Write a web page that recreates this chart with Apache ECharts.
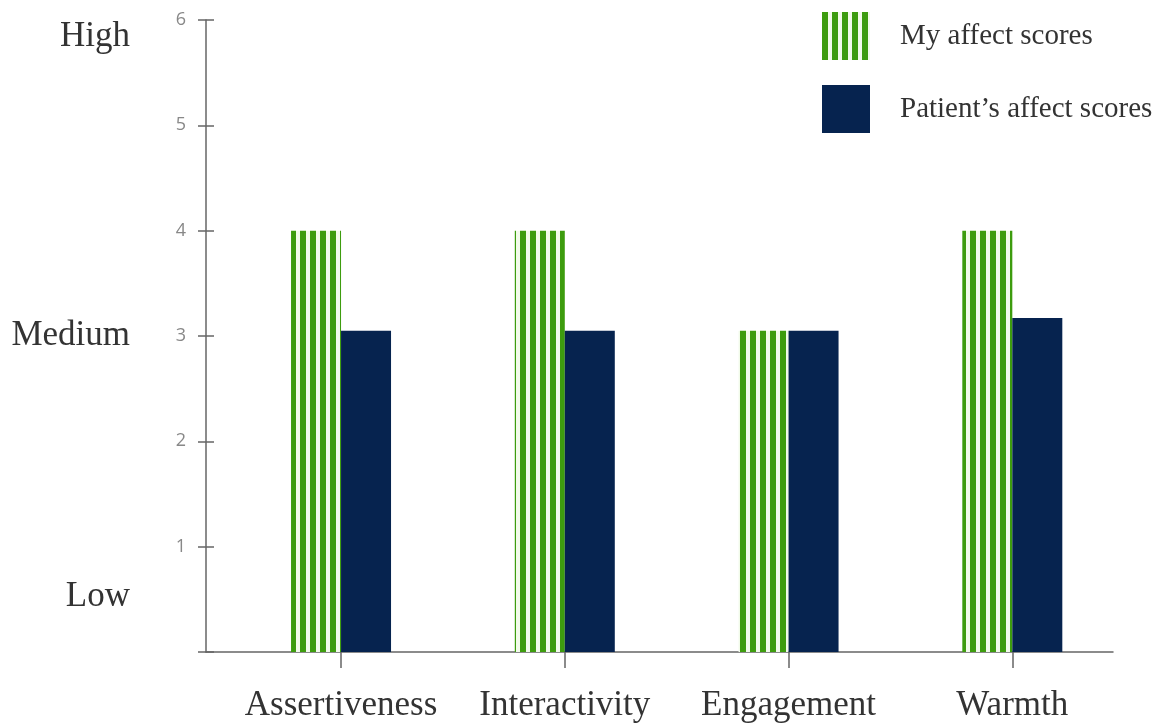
<!DOCTYPE html>
<html>
<head>
<meta charset="utf-8">
<script src="https://cdn.jsdelivr.net/npm/echarts@6/dist/echarts.min.js"></script>
<style>
  html, body { margin: 0; padding: 0; background: #fff; }
  #chart { width: 1173px; height: 728px; }
</style>
</head>
<body>
<div id="chart"></div>
<script>
// categories and values
var categories = ['Assertiveness', 'Interactivity', 'Engagement', 'Warmth'];
var myScores = [4, 4, 3.05, 4];
var patientScores = [3.05, 3.05, 3.05, 3.17];
var levelNames = ['Low', 'Medium', 'High'];
var levelValues = [0.52, 3, 5.84];

// vertical green / white stripes
function stripes() {
  var c = document.createElement('canvas');
  c.width = 10; c.height = 10;
  var ctx = c.getContext('2d');
  ctx.fillStyle = '#f2fbea';
  ctx.fillRect(0, 0, 10, 10);
  ctx.fillStyle = '#3d9c0e';
  ctx.fillRect(0, 0, 6, 10);
  return c;
}
var greenFill = { image: stripes(), repeat: 'repeat' };

var serif = 'Liberation Serif';
var axisColor = '#666';

var chartDom = document.getElementById('chart');
var myChart = echarts.init(chartDom);

var option = {
  animation: false,
  grid: { left: 206, right: 60, top: 20, bottom: 76 },
  legend: {
    orient: 'vertical',
    left: 822,
    top: 12,
    padding: 0,
    itemWidth: 48,
    itemHeight: 48,
    itemGap: 25,
    icon: 'rect',
    textStyle: { fontFamily: serif, fontSize: 29, color: '#333', padding: [0, 0, 0, 25] },
    data: ['My affect scores', 'Patient\u2019s affect scores']
  },
  xAxis: {
    type: 'value',
    min: 0.3965,
    max: 4.45,
    splitLine: { show: false },
    axisLine: { show: true, lineStyle: { color: axisColor, width: 1.5 } },
    axisTick: { show: true, customValues: [1, 2, 3, 4], length: 16, lineStyle: { color: axisColor, width: 1.5 } },
    axisLabel: {
      customValues: [1, 2, 3, 4],
      margin: 36,
      fontFamily: serif,
      fontSize: 35,
      color: '#333',
      formatter: function (v) { return categories[Math.round(v) - 1]; }
    }
  },
  yAxis: [
    {
      // axis line plus the High / Medium / Low labels
      type: 'value', min: 0, max: 6, position: 'left',
      splitLine: { show: false },
      axisLine: { show: true, lineStyle: { color: axisColor, width: 1.5 } },
      axisTick: { show: false },
      axisLabel: {
        customValues: levelValues,
        margin: 76,
        fontFamily: serif, fontSize: 35, color: '#333',
        formatter: function (v) { return levelNames[levelValues.indexOf(v)]; }
      }
    },
    {
      // numeric ticks, shifted so the ticks cross the axis line
      type: 'value', min: 0, max: 6, interval: 1, position: 'left', offset: -8,
      splitLine: { show: false },
      axisLine: { show: false },
      axisTick: { show: true, length: 16, lineStyle: { color: axisColor, width: 1.5 } },
      axisLabel: {
        margin: 28, fontFamily: 'Open Sans', fontSize: 18, color: '#888',
        formatter: function (v) { return v === 0 ? '' : String(v); }
      }
    }
  ],
  series: [
    {
      name: 'My affect scores',
      type: 'bar',
      barWidth: 50,
      barGap: '0%',
      itemStyle: { color: greenFill },
      data: myScores.map(function (v, i) { return [i + 1, v]; })
    },
    {
      name: 'Patient\u2019s affect scores',
      type: 'bar',
      barWidth: 50,
      barGap: '0%',
      itemStyle: { color: '#06234f' },
      data: patientScores.map(function (v, i) { return [i + 1, v]; })
    }
  ]
};

myChart.setOption(option);
</script>
</body>
</html>
